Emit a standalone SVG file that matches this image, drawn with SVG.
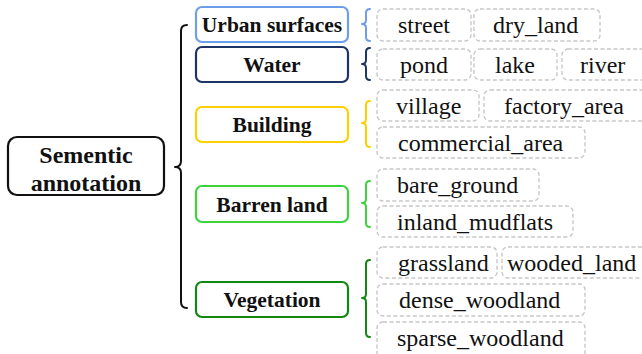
<svg xmlns="http://www.w3.org/2000/svg" width="642" height="354" viewBox="0 0 642 354">
<style>
.cat{fill:#fff;stroke-width:2.2}
.leaf rect{fill:none;stroke:#c8c8c8;stroke-width:1.4;stroke-dasharray:4 2.5}
.leaf text{font-family:"Liberation Serif","Times New Roman",serif;font-size:24px;fill:#111}
.ct{font-family:"Liberation Serif","Times New Roman",serif;font-size:21.5px;font-weight:bold;fill:#111;text-anchor:middle}
.br{fill:none;stroke-width:2;stroke-linecap:round;stroke-linejoin:round}
</style>
<rect width="642" height="354" fill="#fff"/>
<g id="root">
<rect x="8" y="137" width="156" height="58" rx="9" fill="#fff" stroke="#111" stroke-width="2.2"/>
<text x="86" y="163" font-family="Liberation Serif, Times New Roman, serif" font-size="24" font-weight="bold" text-anchor="middle" fill="#111">Sementic</text>
<text x="86" y="191" font-family="Liberation Serif, Times New Roman, serif" font-size="24" font-weight="bold" text-anchor="middle" fill="#111">annotation</text>
</g>
<g id="connectors">
<path class="br" stroke="#111" stroke-width="2.4" d="M187,25 Q181,25 181,31 L181,161 Q181,167 175,167 Q181,167 181,173 L181,302 Q181,308 187,308"/>
<path class="br" stroke="#6d9eeb" d="M370,9 Q366,9 366,13 L366,20 Q366,24 362,24 Q366,24 366,28 L366,37 Q366,41 370,41"/>
<path class="br" stroke="#1c3566" d="M370,48 Q366,48 366,52 L366,60 Q366,64 362,64 Q366,64 366,68 L366,76 Q366,80 370,80"/>
<path class="br" stroke="#ffd000" d="M370,101 Q366,101 366,105 L366,119 Q366,123 362,123 Q366,123 366,127 L366,143 Q366,147 370,147"/>
<path class="br" stroke="#3fd23f" d="M370,181 Q366,181 366,185 L366,199 Q366,203 362,203 Q366,203 366,207 L366,223 Q366,227 370,227"/>
<path class="br" stroke="#128712" d="M370,260 Q366,260 366,264 L366,294 Q366,298 362,298 Q366,298 366,302 L366,333 Q366,337 370,337"/>
</g>
<g id="urban">
<rect class="cat" x="196" y="7" width="152" height="35" rx="6" stroke="#6d9eeb"/>
<text class="ct" x="272" y="32">Urban surfaces</text>
</g>
<g id="water">
<rect class="cat" x="196" y="47" width="152" height="35" rx="6" stroke="#1c3566"/>
<text class="ct" x="272" y="72">Water</text>
</g>
<g id="building">
<rect class="cat" x="196" y="107" width="152" height="35" rx="6" stroke="#ffd000"/>
<text class="ct" x="272" y="132">Building</text>
</g>
<g id="barren">
<rect class="cat" x="196" y="186" width="152" height="36" rx="6" stroke="#3fd23f"/>
<text class="ct" x="272" y="211.5">Barren land</text>
</g>
<g id="vegetation">
<rect class="cat" x="196" y="282" width="152" height="35" rx="6" stroke="#128712"/>
<text class="ct" x="272" y="307">Vegetation</text>
</g>
<g id="street" class="leaf"><rect x="377" y="9" width="94" height="32" rx="6"/><text x="398" y="33">street</text></g>
<g id="dry_land" class="leaf"><rect x="474" y="9" width="126" height="32" rx="6"/><text x="493" y="33">dry_land</text></g>
<g id="pond" class="leaf"><rect x="377" y="49" width="94" height="31" rx="6"/><text x="400" y="73">pond</text></g>
<g id="lake" class="leaf"><rect x="474" y="49" width="83" height="31" rx="6"/><text x="495" y="73">lake</text></g>
<g id="river" class="leaf"><rect x="562" y="49" width="90" height="31" rx="6"/><text x="580" y="73">river</text></g>
<g id="village" class="leaf"><rect x="377" y="90" width="102" height="31" rx="6"/><text x="396" y="114">village</text></g>
<g id="factory_area" class="leaf"><rect x="484" y="90" width="170" height="31" rx="6"/><text x="504" y="114">factory_area</text></g>
<g id="commercial_area" class="leaf"><rect x="377" y="127" width="208" height="31" rx="6"/><text x="398" y="151">commercial_area</text></g>
<g id="bare_ground" class="leaf"><rect x="377" y="169" width="162" height="32" rx="6"/><text x="397" y="193">bare_ground</text></g>
<g id="inland_mudflats" class="leaf"><rect x="377" y="206" width="196" height="31" rx="6"/><text x="397" y="230">inland_mudflats</text></g>
<g id="grassland" class="leaf"><rect x="377" y="247" width="120" height="31" rx="6"/><text x="398" y="271">grassland</text></g>
<g id="wooded_land" class="leaf"><rect x="502" y="247" width="150" height="31" rx="6"/><text x="507" y="271">wooded_land</text></g>
<g id="dense_woodland" class="leaf"><rect x="377" y="284" width="208" height="32" rx="6"/><text x="399" y="308">dense_woodland</text></g>
<g id="sparse_woodland" class="leaf"><rect x="377" y="322" width="208" height="40" rx="6"/><text x="397" y="346">sparse_woodland</text></g>
</svg>
